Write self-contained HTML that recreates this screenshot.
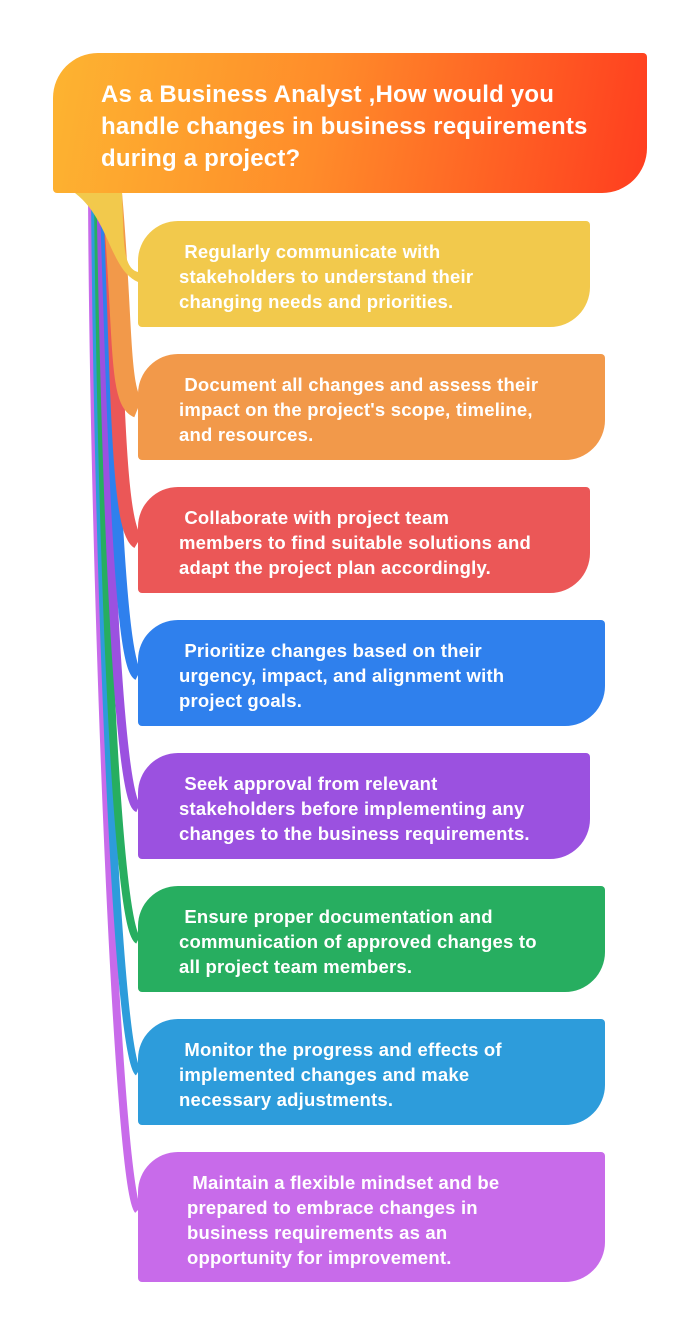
<!DOCTYPE html>
<html><head><meta charset="utf-8"><style>
body{margin:0;width:700px;height:1336px;background:#fff;position:relative;overflow:hidden;font-family:"Liberation Sans",sans-serif}
.h{position:absolute;left:53px;top:53px;width:594px;height:140px;border-radius:45px 4px 45px 4px;background:linear-gradient(100deg,#FDB431,#FF8C2A 45%,#FF3D1F);}
.h div{position:absolute;left:48px;top:26px;color:#fff;font-weight:bold;font-size:24px;line-height:32px;width:520px;letter-spacing:0.2px}
.c{position:absolute;left:138px;border-radius:40px 4px 40px 4px;color:#fff;font-weight:bold;font-size:18.5px;line-height:25px;box-sizing:border-box;padding:18px 0 0 41px;letter-spacing:0.2px}
</style></head><body>
<svg width="700" height="1336" style="position:absolute;left:0;top:0" fill="none">
<path d="M92 193 C94 600 118 1190 138 1210" stroke="#C86BEA" stroke-width="8"/>
<path d="M95 193 C98 600 118 1060 138 1072" stroke="#2D9CDB" stroke-width="8"/>
<path d="M98 193 C102 600 118 930 138 940" stroke="#27AE60" stroke-width="8"/>
<path d="M101 193 C106 500 118 800 138 808" stroke="#9B51E0" stroke-width="9"/>
<path d="M105 193 C112 400 118 665 138 675" stroke="#2F80ED" stroke-width="11"/>
<path d="M110 193 C118 400 118 530 138 542" stroke="#EB5757" stroke-width="14"/>
<path d="M112 193 C124 330 118 400 138 408" stroke="#F2994A" stroke-width="20"/>
<path d="M75 193 L122 193 C124 240 122 268 138 272 L138 282 C110 270 110 220 75 193Z" fill="#F2C94C"/>
</svg>
<div class="h"><div>As a Business Analyst ,How would you handle changes in business requirements during a project?</div></div>
<div class="c" style="top:221px;width:452px;height:106px;background:#F2C94C">&nbsp;Regularly communicate with<br>stakeholders to understand their<br>changing needs and priorities.</div>
<div class="c" style="top:354px;width:467px;height:106px;background:#F2994A">&nbsp;Document all changes and assess their<br>impact on the project's scope, timeline,<br>and resources.</div>
<div class="c" style="top:487px;width:452px;height:106px;background:#EB5757">&nbsp;Collaborate with project team<br>members to find suitable solutions and<br>adapt the project plan accordingly.</div>
<div class="c" style="top:620px;width:467px;height:106px;background:#2F80ED">&nbsp;Prioritize changes based on their<br>urgency, impact, and alignment with<br>project goals.</div>
<div class="c" style="top:753px;width:452px;height:106px;background:#9B51E0">&nbsp;Seek approval from relevant<br>stakeholders before implementing any<br>changes to the business requirements.</div>
<div class="c" style="top:886px;width:467px;height:106px;background:#27AE60">&nbsp;Ensure proper documentation and<br>communication of approved changes to<br>all project team members.</div>
<div class="c" style="top:1019px;width:467px;height:106px;background:#2D9CDB">&nbsp;Monitor the progress and effects of<br>implemented changes and make<br>necessary adjustments.</div>
<div class="c" style="top:1152px;width:467px;height:130px;background:#C86BEA;padding-left:49px">&nbsp;Maintain a flexible mindset and be<br>prepared to embrace changes in<br>business requirements as an<br>opportunity for improvement.</div>
</body></html>
